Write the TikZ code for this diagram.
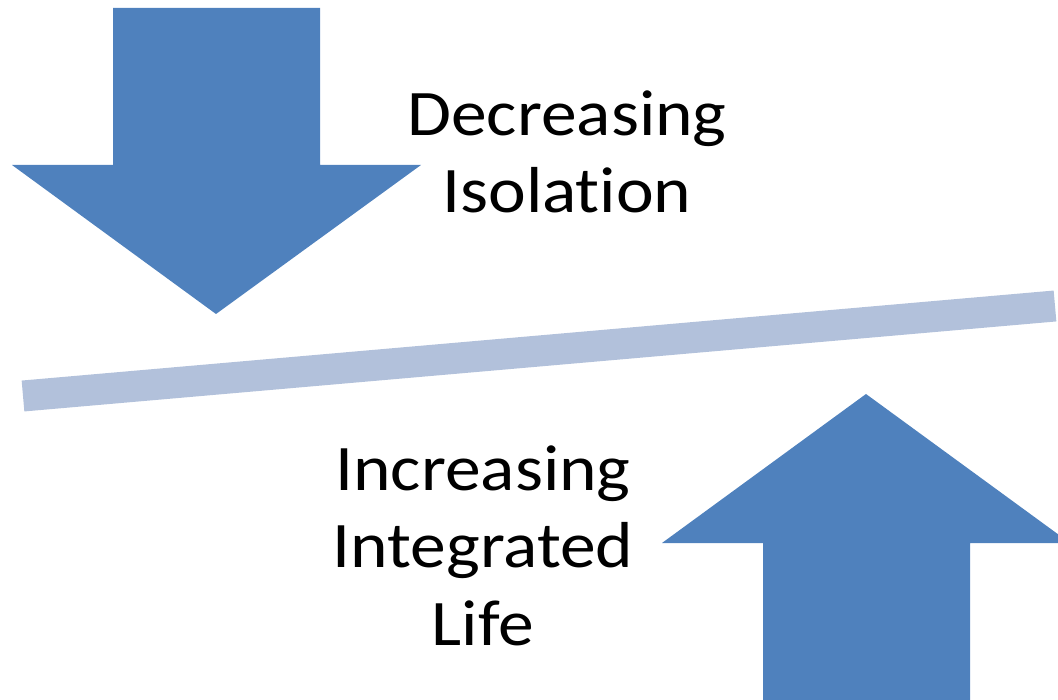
\documentclass[tikz,border=0pt]{standalone}
\usepackage{fontspec}
\setmainfont{Carlito}[FakeStretch=1.1, Ligatures=NoCommon]
\usepackage{tikz}

\definecolor{arrowblue}{HTML}{4F81BD}
\definecolor{barblue}{HTML}{B2C1DB}

\begin{document}
\begin{tikzpicture}[x=1pt, y=-1pt,
    arrowfill/.style={fill=arrowblue, draw=none},
    barline/.style={draw=barblue, line width=31pt},
    label/.style={font=\fontsize{65}{77.5}\selectfont, align=center, inner sep=0pt, anchor=base}]
    \useasboundingbox (0, 0) rectangle (1058, 700);
    \fill[arrowfill] (113, 8) -- (320, 8) -- (320, 165) -- (421, 165) -- (216, 314)
        -- (12, 165) -- (113, 165) -- cycle;
    \fill[arrowfill] (763, 720) -- (763, 543) -- (662, 543) -- (866, 394) -- (1070, 543)
        -- (970, 543) -- (970, 720) -- cycle;
    \coordinate (barL) at (23, 396);
    \coordinate (barR) at (1055, 306);
    \draw[barline] (barL) -- (barR);
    \node[label] (dec) at (567, 213) {Decreasing\\Isolation};
    \node[label] (inc) at (483, 645) {Increasing\\Integrated\\Life};
\end{tikzpicture}
\end{document}
